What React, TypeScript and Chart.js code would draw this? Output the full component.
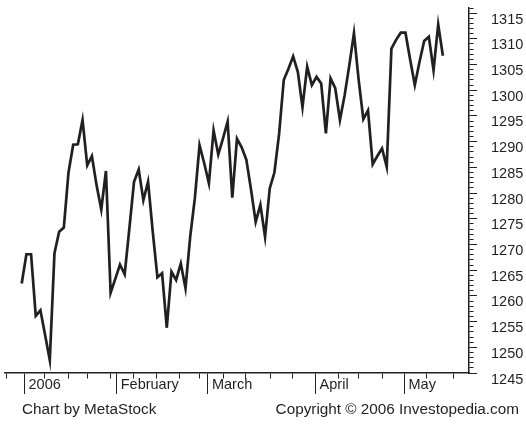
import React, { useEffect, useRef } from 'react';
import { Chart, registerables } from 'chart.js';

Chart.register(...registerables);

// Daily closes, one per trading session, from 21 Dec 2005 to 3 May 2006
const firstSession = '2005-12-21';
const lastSession = '2006-05-03';
const closes: number[] = [
  1262.4, 1268.1, 1268.1, 1256.1, 1257.2, 1252.4, 1247.5, 1268.3, 1272.5, 1273.3,
  1284.0, 1289.4, 1289.5, 1294.2, 1285.4, 1287.2, 1281.5, 1276.8, 1284.3, 1260.6,
  1263.3, 1266.1, 1264.2, 1273.1, 1282.2, 1284.6, 1278.6, 1282.2, 1272.5, 1263.6,
  1264.4, 1253.8, 1264.7, 1263.1, 1266.3, 1261.5, 1271.5, 1279.0, 1289.3, 1285.8,
  1281.9, 1292.2, 1287.5, 1290.6, 1293.9, 1279.1, 1290.6, 1288.9, 1286.5, 1280.7,
  1274.4, 1277.7, 1271.5, 1280.9, 1284.0, 1291.5, 1302.0, 1304.2, 1306.6, 1303.6,
  1296.7, 1304.6, 1301.0, 1302.6, 1301.3, 1291.6, 1302.3, 1300.4, 1294.2, 1299.0,
  1304.8, 1311.1, 1302.0, 1294.4, 1296.1, 1285.6, 1287.2, 1288.7, 1285.1, 1308.1,
  1309.8, 1311.2, 1311.2, 1306.0, 1301.0, 1305.5, 1309.6, 1310.4, 1303.9, 1312.8,
  1306.7,
];

// Axis tick positions (in trading-session units, as drawn on the reference)
const weekTicks: number[] = [
  -3.2, 0.6, 4.8, 10.0, 14.1, 18.9, 23.9, 28.9, 33.8, 38.0, 43.1,
  47.9, 53.1, 57.9, 62.8, 67.6, 71.9, 77.0, 81.8, 86.6, 92.2,
];
const monthTicks: number[] = [0.6, 20.3, 39.8, 62.8, 81.8];
const monthLabels: string[] = ['2006', 'February', 'March', 'April', 'May'];

const xMin = -3.57;
const xMax = 95.58;
const yMin = 1245;
const yMax = 1316;
const yLabelStep = 5;
const yMinorStep = 1;

const footerLeft = 'Chart by MetaStock';
const footerRight = 'Copyright © 2006 Investopedia.com';

const INK = '#231f20';
const FAMILY = '"Liberation Sans", Arial, Helvetica, sans-serif';

export default function App() {
  const ref = useRef<HTMLCanvasElement>(null);

  useEffect(() => {
    const canvas = ref.current;
    if (!canvas) return;
    const font = { family: FAMILY, size: 14.5 };
    const monthIndex = (v: number) => monthTicks.findIndex((m) => Math.abs(m - v) < 1e-6);
    const xTickValues = [
      ...monthTicks,
      ...weekTicks.filter((w) => !monthTicks.some((m) => Math.abs(m - w) < 0.6)),
    ].sort((a, b) => a - b);
    const yTickValues: number[] = [];
    for (let v = yMin; v <= yMax; v += yMinorStep) yTickValues.push(v);

    const chart = new Chart(canvas, {
      type: 'line',
      data: {
        datasets: [
          {
            label: `${firstSession} – ${lastSession}`,
            data: closes.map((c, i) => ({ x: i, y: c })),
            borderColor: INK,
            borderWidth: 2.7,
            pointRadius: 0,
            tension: 0,
            borderJoinStyle: 'miter',
            borderCapStyle: 'butt',
            fill: false,
          },
        ],
      },
      options: {
        responsive: false,
        animation: false,
        devicePixelRatio: 1,
        layout: { padding: { left: 5, top: 8, right: 0, bottom: 0 } },
        plugins: { legend: { display: false }, tooltip: { enabled: false } },
        scales: {
          x: {
            type: 'linear',
            position: 'bottom',
            bounds: 'data',
            min: xMin,
            max: xMax,
            afterBuildTicks: (s: any) => {
              s.ticks = xTickValues.map((v) => ({ value: v }));
            },
            afterFit: (s: any) => {
              s.height = 55;
              s.paddingLeft = 0;
              s.paddingRight = 0;
            },
            grid: {
              display: true,
              drawOnChartArea: false,
              drawTicks: true,
              tickLength: 21,
              color: INK,
              lineWidth: 1,
              tickBorderDash: (ctx: any) =>
                ctx.tick && monthIndex(ctx.tick.value) >= 0 ? [] : [5, 100],
            },
            border: { display: true, color: INK, width: 1.5 },
            ticks: {
              autoSkip: false,
              maxRotation: 0,
              minRotation: 0,
              align: 'start',
              labelOffset: 4,
              padding: -18,
              color: INK,
              font,
              callback: (v: any) => {
                const k = monthIndex(Number(v));
                return k >= 0 ? monthLabels[k] : '';
              },
            },
          },
          y: {
            type: 'linear',
            position: 'right',
            bounds: 'data',
            min: yMin,
            max: yMax,
            afterBuildTicks: (s: any) => {
              s.ticks = yTickValues.map((v) => ({ value: v }));
            },
            afterFit: (s: any) => {
              s.width = 57;
              s.paddingTop = 0;
              s.paddingBottom = 0;
            },
            grid: {
              display: true,
              drawOnChartArea: false,
              drawTicks: true,
              tickLength: 8,
              color: INK,
              lineWidth: 1,
              tickBorderDash: (ctx: any) =>
                ctx.tick && ctx.tick.value % yLabelStep === 0 ? [] : [4, 100],
            },
            border: { display: true, color: INK, width: 1.5 },
            ticks: {
              autoSkip: false,
              padding: 14,
              labelOffset: 6.5,
              color: INK,
              font,
              callback: (v: any) => (Number(v) % yLabelStep === 0 ? String(v) : ''),
            },
          },
        },
      },
    } as any);
    return () => chart.destroy();
  }, []);

  const footStyle: React.CSSProperties = {
    position: 'absolute',
    top: 400,
    fontFamily: FAMILY,
    fontSize: 15.3,
    lineHeight: '18px',
    color: INK,
    whiteSpace: 'nowrap',
  };

  return (
    <div
      style={{
        position: 'fixed',
        left: 0,
        top: 0,
        width: 526,
        height: 428,
        background: '#fff',
        overflow: 'hidden',
      }}
    >
      <canvas ref={ref} width={526} height={428} style={{ display: 'block', width: 526, height: 428 }} />
      <div style={{ ...footStyle, left: 22 }}>{footerLeft}</div>
      <div style={{ ...footStyle, right: 7 }}>{footerRight}</div>
    </div>
  );
}
